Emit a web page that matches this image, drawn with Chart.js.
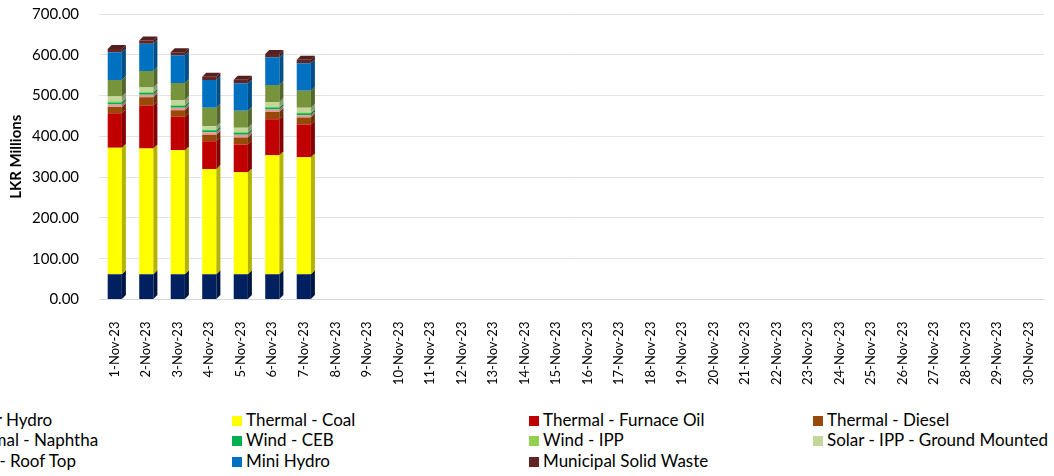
<!DOCTYPE html>
<html>
<head>
<meta charset="utf-8">
<script src="https://cdn.jsdelivr.net/npm/chart.js@4.4.1/dist/chart.umd.min.js"></script>
<style>
  html, body { margin: 0; padding: 0; background: #fff; overflow: hidden; }
  #wrap { position: relative; width: 1054px; height: 476px; overflow: hidden; }
  #chartBox { position: absolute; left: 0; top: 2px; width: 1058px; height: 397px; }
  #legend { position: absolute; left: 0; top: 409px; width: 1054px; height: 67px; font-family: Lato, "Open Sans", sans-serif; font-size: 17px; color: #000; }
  .item { position: absolute; white-space: nowrap; line-height: 21px; }
  .box { display: inline-block; width: 10px; height: 10px; margin-right: 4px; vertical-align: 0px; }
</style>
</head>
<body>
<div id="wrap">
  <div id="chartBox"><canvas id="genChart"></canvas></div>
  <div id="legend"></div>
</div>
<script>
const days = [];
for (let d = 1; d <= 30; d++) days.push(d + "-Nov-23");

const sources = ["Major Hydro", "Thermal - Coal", "Thermal - Furnace Oil", "Thermal - Diesel",
  "Thermal - Naphtha", "Wind - CEB", "Wind - IPP", "Solar - IPP - Ground Mounted",
  "Solar - Roof Top", "Mini Hydro", "Municipal Solid Waste"];
const colors = ["#002060", "#FFFF00", "#C00000", "#984807", "#E79A9A", "#00B050",
  "#92D050", "#C4D79B", "#77933C", "#0070C0", "#632523"];

// LKR millions, 1-Nov to 7-Nov (rest of the month not yet reported)
const majorHydro  = [62, 62, 62, 62, 62, 62, 62];
const coal        = [310, 308, 304, 258, 250, 292, 287];
const furnaceOil  = [85, 106, 82, 68, 68, 88, 80];
const diesel      = [15, 20, 16, 16, 17, 18, 17];
const naphtha     = [6, 6, 6, 6, 7, 6, 6];
const windCEB     = [5, 5, 5, 5, 5, 5, 5];
const windIPP     = [3, 3, 2, 2, 2, 2, 2];
const solarGround = [12, 10, 12, 8, 10, 11, 11];
const solarRoof   = [40, 40, 42, 45, 42, 42, 42];
const miniHydro   = [68, 67, 68, 68, 67, 68, 67];
const msw         = [8, 8, 7, 8, 9, 8, 9];

const series = [majorHydro, coal, furnaceOil, diesel, naphtha, windCEB, windIPP,
  solarGround, solarRoof, miniHydro, msw];

function shade(hex, f) {
  const n = parseInt(hex.slice(1), 16);
  const r = Math.round(((n >> 16) & 255) * f);
  const g = Math.round(((n >> 8) & 255) * f);
  const b = Math.round((n & 255) * f);
  return "rgb(" + r + "," + g + "," + b + ")";
}

// fake Excel-style 3D faces on each bar segment
const depth = 4;
const bar3d = {
  id: "bar3d",
  afterDatasetsDraw(chart) {
    const ctx = chart.ctx;
    const n = chart.data.datasets.length;
    ctx.save();
    for (let i = 0; i < n; i++) {
      const meta = chart.getDatasetMeta(i);
      const col = chart.data.datasets[i].backgroundColor;
      meta.data.forEach((el, j) => {
        const v = chart.data.datasets[i].data[j];
        if (v == null) return;
        const right = el.x + el.width / 2;
        const left = el.x - el.width / 2;
        const top = Math.min(el.y, el.base);
        const bottom = Math.max(el.y, el.base);
        ctx.fillStyle = shade(col, 0.7);
        ctx.beginPath();
        ctx.moveTo(right, bottom);
        ctx.lineTo(right, top);
        ctx.lineTo(right + depth, top - depth);
        ctx.lineTo(right + depth, bottom - depth);
        ctx.closePath();
        ctx.fill();
        if (i === n - 1) {
          ctx.fillStyle = shade(col, 0.85);
          ctx.beginPath();
          ctx.moveTo(left, top);
          ctx.lineTo(left + depth, top - depth);
          ctx.lineTo(right + depth, top - depth);
          ctx.lineTo(right, top);
          ctx.closePath();
          ctx.fill();
        }
      });
    }
    ctx.restore();
  }
};

const datasets = sources.map((name, i) => ({
  label: name,
  data: days.map((d, j) => (j < series[i].length ? series[i][j] : null)),
  backgroundColor: colors[i],
  borderWidth: 0,
  barPercentage: 0.45,
  categoryPercentage: 1
}));

new Chart(document.getElementById("genChart"), {
  type: "bar",
  data: { labels: days, datasets: datasets },
  plugins: [bar3d],
  options: {
    responsive: true,
    maintainAspectRatio: false,
    animation: false,
    layout: { padding: { top: 0, right: 0, left: 3, bottom: 0 } },
    plugins: {
      legend: { display: false },
      tooltip: { enabled: false }
    },
    scales: {
      x: {
        stacked: true,
        grid: { display: false },
        border: { color: "#d9d9d9" },
        ticks: {
          minRotation: 90, maxRotation: 90, autoSkip: false, padding: 14,
          color: "#000", font: { family: "Lato, 'Open Sans', sans-serif", size: 13 }
        }
      },
      y: {
        stacked: true,
        min: 0, max: 700,
        grid: { color: "#e3e3e3", drawTicks: true, tickLength: 17, tickColor: "rgba(0,0,0,0)" },
        border: { display: false },
        title: {
          display: true, text: "LKR Millions", color: "#000",
          font: { family: "Lato, 'Open Sans', sans-serif", size: 15, weight: "bold" }
        },
        ticks: {
          stepSize: 100, color: "#000", padding: 3,
          font: { family: "Lato, 'Open Sans', sans-serif", size: 15 },
          callback: v => v.toFixed(2)
        }
      }
    }
  }
});

// legend: 4 columns, wider than the page, so the first column is clipped on the left
const colX = [-56, 232, 529, 813];
const rowY = [0, 20, 41];
const legend = document.getElementById("legend");
sources.forEach((name, i) => {
  const div = document.createElement("div");
  div.className = "item";
  div.style.left = colX[i % 4] + "px";
  div.style.top = rowY[Math.floor(i / 4)] + "px";
  div.innerHTML = '<span class="box" style="background:' + colors[i] + '"></span>' + name;
  legend.appendChild(div);
});
</script>
</body>
</html>
